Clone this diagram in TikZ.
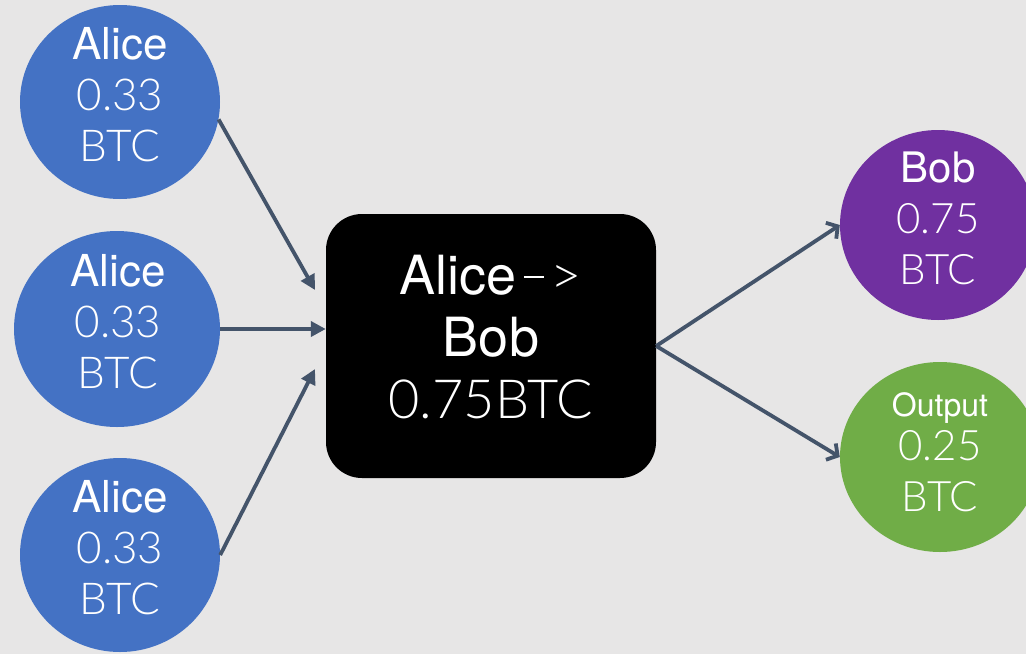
\documentclass[tikz,border=0pt]{standalone}
\usepackage{fontspec}
\setmainfont{TeX Gyre Heros}
\newfontfamily\lightfont{Lato Light}
\usetikzlibrary{arrows.meta,shapes.geometric}
\definecolor{bgc}{HTML}{E7E6E6}
\definecolor{inblue}{HTML}{4472C4}
\definecolor{bobpurple}{HTML}{7030A0}
\definecolor{outgreen}{HTML}{70AD47}
\definecolor{arrowc}{HTML}{44546A}
\tikzset{
  coin/.style={ellipse, draw=none, inner sep=0pt},
  incoin/.style={coin, fill=inblue, minimum width=200pt, minimum height=194pt},
  coinlabel/.style={text=white, align=center, inner sep=0pt,
    font=\fontsize{44}{51}\selectfont},
  txbox/.style={fill=black, rounded corners=36pt, minimum width=330pt,
    minimum height=264pt, inner sep=0pt},
  link/.style={draw=arrowc, line width=3.8pt},
  inarrow/.style={link, -{Triangle[length=15pt,width=15pt]}},
  outarrow/.style={link, -{Straight Barb[length=8pt,width=19pt,line width=3.8pt]}},
}
\begin{document}
\begin{tikzpicture}[x=1pt,y=-1pt]
  \fill[bgc] (0,0) rectangle (1026,654);
  \useasboundingbox (0,0) rectangle (1026,654);

  % input coins
  \node[incoin] (a1) at (120,102) {};
  \node[incoin, minimum width=206pt, minimum height=196pt] (a2) at (117,329) {};
  \node[incoin] (a3) at (120,555) {};
  \node[coinlabel] (a1t) at (120,95) {Alice\\{\lightfont 0.33}\\{\lightfont BTC}};
  \node[coinlabel] (a2t) at (118,322) {Alice\\{\lightfont 0.33}\\{\lightfont BTC}};
  \node[coinlabel] (a3t) at (120,548) {Alice\\{\lightfont 0.33}\\{\lightfont BTC}};

  % transaction
  \node[txbox] (tx) at (491,346) {};
  \node[text=white, align=center, inner sep=0pt,
        font=\fontsize{54}{62}\selectfont] (txt) at (491,337)
        {Alice{\lightfont\kern7pt\raisebox{16pt}{\rule{20pt}{2pt}}\kern7pt>}\\Bob\\{\lightfont 0.75BTC}};

  % output coins
  \node[coin, fill=bobpurple, minimum width=196pt, minimum height=190pt] (bob) at (938,225) {};
  \node[coinlabel, font=\fontsize{42}{51}\selectfont] (bobt) at (938,218)
        {Bob\\{\lightfont 0.75}\\{\lightfont BTC}};
  \node[coin, fill=outgreen, minimum width=200pt, minimum height=190pt] (out) at (940,457) {};
  \node[coinlabel, font=\fontsize{42}{51}\selectfont] (outt) at (940,452)
        {{\fontsize{32}{36}\selectfont Output}\\[-7pt]{\lightfont 0.25}\\{\lightfont BTC}};

  % arrow targets beside the transaction box
  \coordinate (t1) at (315,290);
  \coordinate (t3) at (315,369);

  \draw[inarrow] (a1.-10) -- (t1);
  \draw[inarrow] (a2.east) -- (a2.east -| tx.west);
  \draw[inarrow] (a3.east) -- (t3);
  \draw[outarrow] (tx.east) -- (bob.west);
  \draw[outarrow] (tx.east) -- (out.west);
\end{tikzpicture}
\end{document}
